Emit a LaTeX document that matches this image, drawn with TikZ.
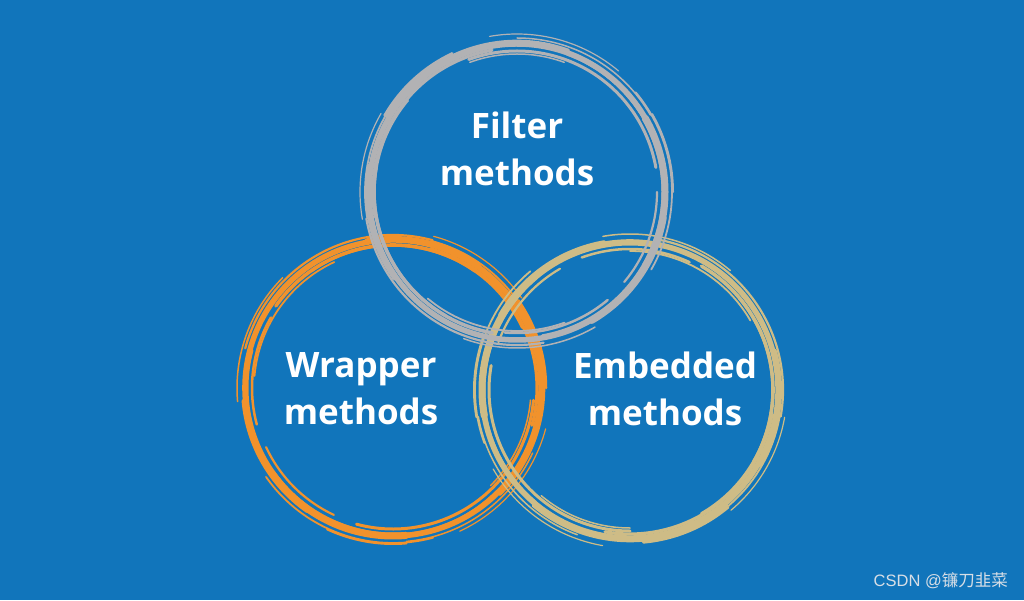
\documentclass[tikz,border=0pt]{standalone}
\usepackage{fontspec}
\setmainfont{Open Sans}
\newfontfamily\cjkfont{Noto Sans CJK SC}
\newfontfamily\wmfont{Liberation Sans}
\definecolor{bgblue}{RGB}{17,117,187}
\definecolor{ringgray}{RGB}{178,178,180}
\definecolor{ringorange}{RGB}{241,146,44}
\definecolor{ringtan}{RGB}{206,188,134}
\definecolor{wmark}{RGB}{215,222,230}
\newcommand{\brushring}[3]{%
  \begin{scope}[shift={(#1)}, rotate=#3, draw=#2, line cap=round]
    \draw[line width=5.5pt] (0,0) circle[radius=148];
    \foreach \r/\a/\s/\w in {143/10/120/3.5, 153/60/90/2.2, 146/150/110/3, 155/200/70/1.8,
      141/240/100/3, 151/300/80/2.6, 157/20/40/1.2, 139/100/60/1.8, 154/260/60/1.5,
      144/330/90/3.2, 150/170/50/4, 142/40/70/1.5, 156/120/50/1.5, 147/220/80/3.5,
      152/0/60/1.8, 140/190/40/2.2, 158/280/50/1.2, 138/300/40/1.5, 153/345/35/2.5,
      141/135/45/2.5, 156/230/30/2}{
      \draw[line width=\w pt] (\a:\r) arc[start angle=\a, delta angle=\s, radius=\r];
    }
    \draw[line width=7pt] (200:148) arc[start angle=200, delta angle=60, radius=148];
    \draw[line width=6pt] (40:149) arc[start angle=40, delta angle=45, radius=149];
  \end{scope}}
\tikzset{
  lbl/.style={text=white, font=\fontsize{35}{47}\selectfont\bfseries, align=center},
}
\begin{document}
\begin{tikzpicture}[x=1pt, y=1pt]
  \fill[bgblue] (0,0) rectangle (1024,600);
  \useasboundingbox (0,0) rectangle (1024,600);
  \coordinate (cw) at (393,212);
  \coordinate (ce) at (630,210);
  \coordinate (cf) at (517,408);
  \brushring{cw}{ringorange}{15}
  \brushring{ce}{ringtan}{-70}
  \brushring{cf}{ringgray}{130}
  \node[lbl] (filter) at (517,451) {Filter\\methods};
  \node[lbl] (wrapper) at (361,211) {Wrapper\\methods};
  \node[lbl] (embedded) at (665,211) {Embedded\\methods};
  \node[anchor=east, text=wmark, font=\fontsize{16.5}{19}\selectfont, inner sep=0] (wm) at (1008,19) {\wmfont CSDN @{\cjkfont 镰刀韭菜}};
\end{tikzpicture}
\end{document}
